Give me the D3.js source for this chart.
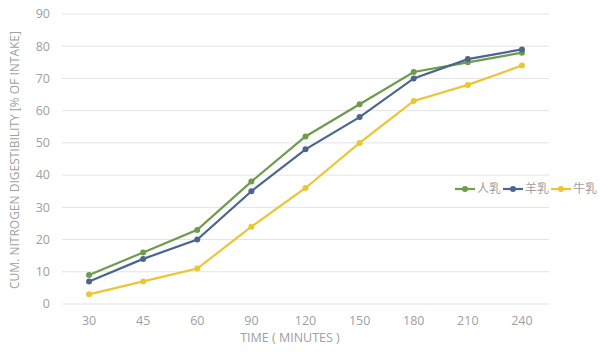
<!DOCTYPE html>
<html>
<head>
<meta charset="utf-8">
<script src="https://cdn.jsdelivr.net/npm/d3@7"></script>
<style>
  body { margin: 0; background: #fff; }
  text { font-family: "Open Sans", "Noto Sans CJK SC", sans-serif; fill: #a0a0a0; }
</style>
</head>
<body>
<script>
var width = 600;
var height = 352;
var margin = {top: 14, right: 51, bottom: 48, left: 62};

var minutes = ['30', '45', '60', '90', '120', '150', '180', '210', '240'];
var human = [9, 16, 23, 38, 52, 62, 72, 75, 78];
var goat = [7, 14, 20, 35, 48, 58, 70, 76, 79];
var cow = [3, 7, 11, 24, 36, 50, 63, 68, 74];
var yTicks = [0, 10, 20, 30, 40, 50, 60, 70, 80, 90];

var series = [
  {name: '人乳', values: human, color: '#6f9b4c'},
  {name: '羊乳', values: goat, color: '#4a6690'},
  {name: '牛乳', values: cow, color: '#eac634'}
];

var svg = d3.select('body').append('svg')
            .attr('width', width)
            .attr('height', height);

var x = d3.scaleBand().domain(minutes)
          .range([margin.left, width - margin.right]);
var y = d3.scaleLinear().domain([0, 90])
          .range([height - margin.bottom, margin.top]);

// grid
svg.append('g')
   .selectAll('line').data(yTicks)
   .enter().append('line')
     .attr('x1', margin.left)
     .attr('x2', width - margin.right)
     .attr('y1', d => y(d))
     .attr('y2', d => y(d))
     .attr('stroke', '#e3e3e3')
     .attr('stroke-width', 1);

// y labels
svg.append('g')
   .selectAll('text').data(yTicks)
   .enter().append('text')
     .attr('x', 50)
     .attr('y', d => y(d))
     .attr('dy', '0.35em')
     .attr('text-anchor', 'end')
     .style('font-size', '12.5px')
     .text(d => d);

// x labels
svg.append('g')
   .selectAll('text').data(minutes)
   .enter().append('text')
     .attr('x', d => x(d) + x.bandwidth() / 2)
     .attr('y', 325)
     .attr('text-anchor', 'middle')
     .style('font-size', '12.5px')
     .text(d => d);

svg.append('text')
   .attr('x', 290)
   .attr('y', 342)
   .attr('text-anchor', 'middle')
   .style('font-size', '12.5px')
   .text('TIME ( MINUTES )');

svg.append('text')
   .attr('transform', 'translate(19,160) rotate(-90)')
   .attr('text-anchor', 'middle')
   .style('font-size', '12px')
   .text('CUM. NITROGEN DIGESTIBILITY [% OF INTAKE]');

var line = d3.line()
             .x((d, i) => x(minutes[i]) + x.bandwidth() / 2)
             .y(d => y(d));

var g = svg.append('g').selectAll('g').data(series)
           .enter().append('g');

g.append('path')
 .attr('d', d => line(d.values))
 .attr('fill', 'none')
 .attr('stroke', d => d.color)
 .attr('stroke-width', 2.2);

g.each(function(s) {
  d3.select(this).selectAll('circle').data(s.values)
    .enter().append('circle')
      .attr('cx', (d, i) => x(minutes[i]) + x.bandwidth() / 2)
      .attr('cy', d => y(d))
      .attr('r', 3)
      .attr('fill', s.color);
});

// legend
var legend = svg.append('g').attr('transform', 'translate(455,189)')
                .selectAll('g').data(series)
                .enter().append('g')
                  .attr('transform', (d, i) => `translate(${i * 48},0)`);

legend.append('line')
      .attr('x1', 0).attr('x2', 20)
      .attr('stroke', d => d.color)
      .attr('stroke-width', 2.2);
legend.append('circle')
      .attr('cx', 10).attr('r', 3)
      .attr('fill', d => d.color);
legend.append('text')
      .attr('x', 22)
      .attr('dy', '0.35em')
      .style('font-size', '12px')
      .text(d => d.name);
</script>
</body>
</html>
